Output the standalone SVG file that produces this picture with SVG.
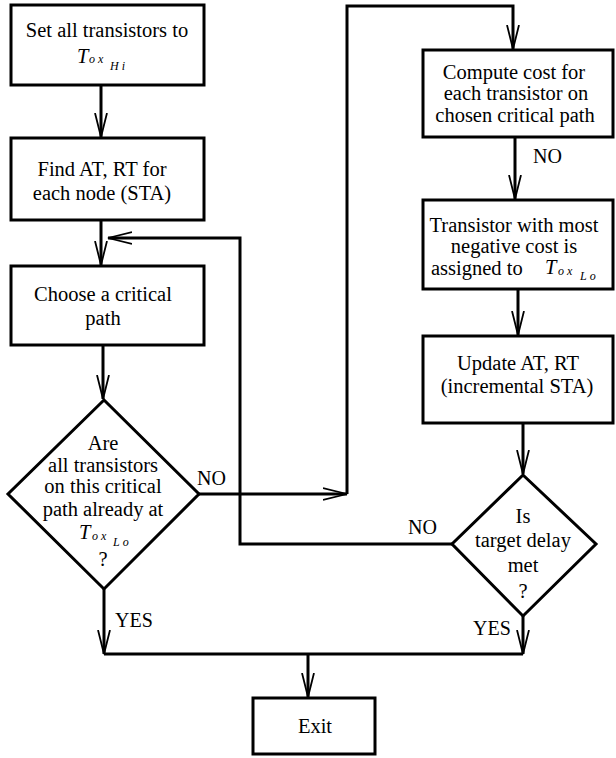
<svg xmlns="http://www.w3.org/2000/svg" width="616" height="758" viewBox="0 0 616 758" font-family="'Liberation Serif', 'DejaVu Serif', serif">
<defs>
<style>
.box{fill:#fff;stroke:#000;stroke-width:3}
.ln{fill:none;stroke:#000;stroke-width:3}
text{font-family:'Liberation Serif', 'DejaVu Serif', serif;font-size:20.5px;fill:#000}
.c{text-anchor:middle}
.lbl{font-size:20px}
.mi{font-style:italic}
.sub{font-style:italic;font-size:12px;letter-spacing:3px}
</style>
<marker id="ah" markerUnits="userSpaceOnUse" markerWidth="30" markerHeight="16" refX="24" refY="7" orient="auto">
<path d="M0,1 L24,7 L0,13" fill="none" stroke="#000" stroke-width="1.8"/>
</marker>
</defs>
<rect width="616" height="758" fill="#fff"/>
<g id="connectors">
<line class="ln" x1="101" y1="85" x2="101" y2="137" marker-end="url(#ah)"/>
<line class="ln" x1="101" y1="220" x2="101" y2="265" marker-end="url(#ah)"/>
<line class="ln" x1="103" y1="345" x2="103" y2="399" marker-end="url(#ah)"/>
<polyline class="ln" points="453,544 240,544 240,238 108,238" marker-end="url(#ah)"/>
<line class="ln" x1="199" y1="494" x2="347" y2="494" marker-end="url(#ah)"/>
<polyline class="ln" points="347,494 347,6 513,6 513,49" marker-end="url(#ah)"/>
<line class="ln" x1="515" y1="137" x2="515" y2="199" marker-end="url(#ah)"/>
<line class="ln" x1="518" y1="289" x2="518" y2="335" marker-end="url(#ah)"/>
<line class="ln" x1="523" y1="423" x2="523" y2="474" marker-end="url(#ah)"/>
<line class="ln" x1="104" y1="589" x2="104" y2="654" marker-end="url(#ah)"/>
<line class="ln" x1="523" y1="616" x2="523" y2="654" marker-end="url(#ah)"/>
<line class="ln" x1="104" y1="654" x2="523" y2="654"/>
<line class="ln" x1="308" y1="654" x2="308" y2="697" marker-end="url(#ah)"/>
<text class="lbl" x="197" y="485">NO</text>
<text class="lbl" x="533" y="163">NO</text>
<text class="lbl" x="408" y="534">NO</text>
<text class="lbl" x="115" y="627">YES</text>
<text class="lbl" x="473" y="635">YES</text>
</g>
<g id="set-all">
<rect class="box" x="11" y="5" width="193" height="80"/>
<text class="c" x="107" y="37">Set all transistors to</text>
<text><tspan class="mi" x="77" y="63">T</tspan><tspan class="sub" x="89" y="63">ox</tspan><tspan class="sub" x="110" y="70">Hi</tspan></text>
</g>
<g id="find-at-rt">
<rect class="box" x="11" y="138" width="193" height="82"/>
<text class="c" x="102" y="176">Find AT, RT for</text>
<text class="c" x="102" y="200">each node (STA)</text>
</g>
<g id="choose-path">
<rect class="box" x="11" y="266" width="193" height="79"/>
<text class="c" x="103" y="301">Choose a critical</text>
<text class="c" x="103" y="325">path</text>
</g>
<g id="decision-all-lo">
<polygon class="box" points="104,400 199,494 104,589 8,494"/>
<text class="c" x="103" y="450">Are</text>
<text class="c" x="103" y="472">all transistors</text>
<text class="c" x="103" y="493">on this critical</text>
<text class="c" x="103" y="516">path already at</text>
<text><tspan class="mi" x="79" y="539">T</tspan><tspan class="sub" x="92" y="540">ox</tspan><tspan class="sub" x="113" y="546">Lo</tspan></text>
<text class="c" x="103" y="566">?</text>
</g>
<g id="compute-cost">
<rect class="box" x="423" y="50" width="190" height="87"/>
<text class="c" x="514" y="79">Compute cost for</text>
<text class="c" x="516" y="100">each transistor on</text>
<text class="c" x="515" y="122">chosen critical path</text>
</g>
<g id="assign-lo">
<rect class="box" x="423" y="200" width="190" height="89"/>
<text class="c" x="514" y="232">Transistor with most</text>
<text class="c" x="514" y="253">negative cost is</text>
<text x="431" y="275">assigned to</text>
<text><tspan class="mi" x="545" y="274">T</tspan><tspan class="sub" x="558" y="275">ox</tspan><tspan class="sub" x="580" y="280">Lo</tspan></text>
</g>
<g id="update-at-rt">
<rect class="box" x="423" y="336" width="190" height="87"/>
<text class="c" x="518" y="370">Update AT, RT</text>
<text class="c" x="517" y="393">(incremental STA)</text>
</g>
<g id="decision-delay">
<polygon class="box" points="523,475 596,544 523,616 452,544"/>
<text class="c" x="523" y="523">Is</text>
<text class="c" x="523" y="547">target delay</text>
<text class="c" x="523" y="572">met</text>
<text class="c" x="523" y="598">?</text>
</g>
<g id="exit">
<rect class="box" x="253" y="698" width="122" height="56"/>
<text class="c" x="315" y="733">Exit</text>
</g>
</svg>
